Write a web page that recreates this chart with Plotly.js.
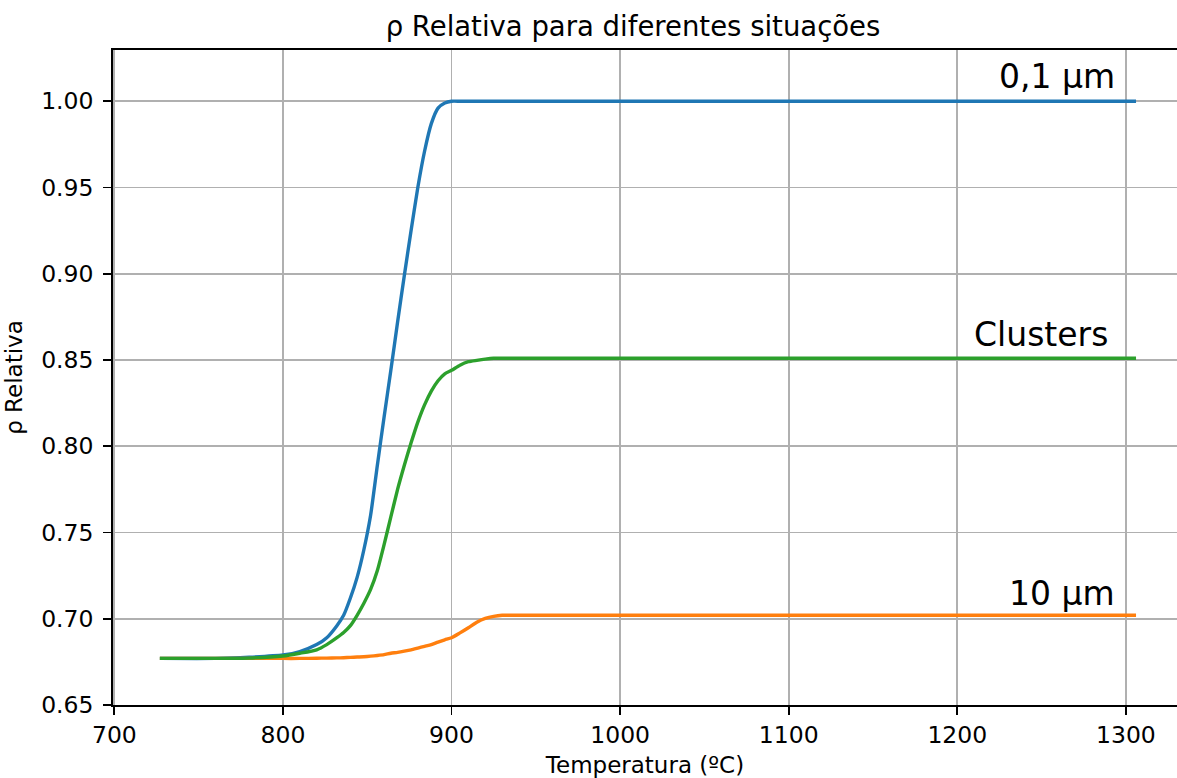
<!DOCTYPE html>
<html>
<head>
<meta charset="utf-8">
<script src="https://cdn.plot.ly/plotly-3.0.1.min.js"></script>
<style>
  html, body { margin: 0; padding: 0; background: #ffffff; }
  #chart { width: 1177px; height: 778px; }
</style>
</head>
<body>
<div id="chart"></div>
<script>
// Temperature samples (ºC)
const temperatura = [727, 760, 780, 800, 810, 820, 826, 832, 836, 840, 844, 848, 852, 856, 860,
  864, 868, 872, 876, 880, 884, 888, 892, 896, 900, 905, 910, 915, 920, 925, 930, 940, 960,
  1000, 1100, 1200, 1306];

// Relative density for 0,1 µm particles
const rho01um = [0.677, 0.677, 0.6777, 0.679, 0.681, 0.685, 0.689, 0.696, 0.702, 0.712, 0.724,
  0.740, 0.760, 0.789, 0.817, 0.844, 0.872, 0.899, 0.925, 0.950, 0.971, 0.987, 0.996, 0.999,
  1.000, 1.000, 1.000, 1.000, 1.000, 1.000, 1.000, 1.000, 1.000, 1.000, 1.000, 1.000, 1.000];

// Relative density for 10 µm particles
const rho10um = [0.677, 0.677, 0.677, 0.677, 0.677, 0.6771, 0.6772, 0.6773, 0.6774, 0.6776, 0.6778,
  0.678, 0.6783, 0.6787, 0.6792, 0.680, 0.6805, 0.6812, 0.682, 0.683, 0.684, 0.685, 0.6865,
  0.6878, 0.689, 0.6918, 0.6948, 0.698, 0.7002, 0.7014, 0.702, 0.702, 0.702, 0.702, 0.702, 0.702, 0.702];

// Relative density for clusters
const rhoClusters = [0.677, 0.677, 0.6772, 0.6784, 0.680, 0.682, 0.685, 0.689, 0.692, 0.696, 0.702,
  0.709, 0.717, 0.728, 0.743, 0.759, 0.775, 0.789, 0.802, 0.814, 0.824, 0.832, 0.838, 0.842,
  0.844, 0.847, 0.849, 0.8498, 0.8505, 0.851, 0.851, 0.851, 0.851, 0.851, 0.851, 0.851, 0.851];

// Curve labels: text, anchor temperature, anchor density
const rotulos = ["0,1 µm", "Clusters", "10 µm"];
const rotuloX = [1295, 1290.5, 1295];
const rotuloY = [1.0146, 0.865, 0.7145];

const xTicks = [700, 800, 900, 1000, 1100, 1200, 1300];
const yTicks = [0.65, 0.70, 0.75, 0.80, 0.85, 0.90, 0.95, 1.00];
const yTickText = yTicks.map(v => v.toFixed(2));

const FONT = "DejaVu Sans, Liberation Sans, sans-serif";

// Smooth curves through the sampled points
const lineStyle = (color) => ({ color: color, width: 3.4, shape: "spline", smoothing: 0.6 });

const traces = [
  { x: temperatura, y: rho01um, name: "0,1 µm", mode: "lines", line: lineStyle("#1f77b4") },
  { x: temperatura, y: rho10um, name: "10 µm", mode: "lines", line: lineStyle("#ff7f0e") },
  { x: temperatura, y: rhoClusters, name: "Clusters", mode: "lines", line: lineStyle("#2ca02c") }
];

const annotations = rotulos.map((t, i) => ({
  text: t, x: rotuloX[i], y: rotuloY[i], xref: "x", yref: "y",
  xanchor: "right", yanchor: "middle", showarrow: false,
  font: { family: FONT, size: 33, color: "#000000" }
}));

const layout = {
  width: 1177, height: 778,
  paper_bgcolor: "#ffffff", plot_bgcolor: "#ffffff",
  margin: { l: 113, r: 0, t: 50, b: 73 },
  showlegend: false,
  font: { family: FONT, color: "#000000" },
  title: {
    text: "ρ Relativa para diferentes situações",
    font: { family: FONT, size: 27.5, color: "#000000" },
    xref: "container", yref: "container",
    x: 633 / 1177, xanchor: "center",
    y: 1 - 26 / 778, yanchor: "middle"
  },
  xaxis: {
    range: [699.2, 1330.3],
    tickvals: xTicks, ticktext: xTicks.map(String),
    ticks: "outside", ticklen: 8, tickwidth: 1.8, tickcolor: "#000000",
    tickfont: { family: FONT, size: 23.5, color: "#000000" },
    showline: true, linecolor: "#000000", linewidth: 1.8, mirror: true,
    showgrid: true, gridcolor: "#b0b0b0", gridwidth: 1.8,
    zeroline: false,
    title: { text: "Temperatura (ºC)", font: { family: FONT, size: 23, color: "#000000" }, standoff: 10 }
  },
  yaxis: {
    range: [0.65, 1.0297],
    tickvals: yTicks, ticktext: yTickText,
    ticks: "outside", ticklen: 8, tickwidth: 1.8, tickcolor: "#000000",
    tickfont: { family: FONT, size: 23.5, color: "#000000" },
    ticklabelstandoff: 5,
    showline: true, linecolor: "#000000", linewidth: 1.8, mirror: false,
    showgrid: true, gridcolor: "#b0b0b0", gridwidth: 1.8,
    zeroline: false,
    title: { text: "ρ Relativa", font: { family: FONT, size: 23, color: "#000000" }, standoff: 12 }
  },
  annotations: annotations
};

Plotly.newPlot("chart", traces, layout, { staticPlot: true, displayModeBar: false });
</script>
</body>
</html>
